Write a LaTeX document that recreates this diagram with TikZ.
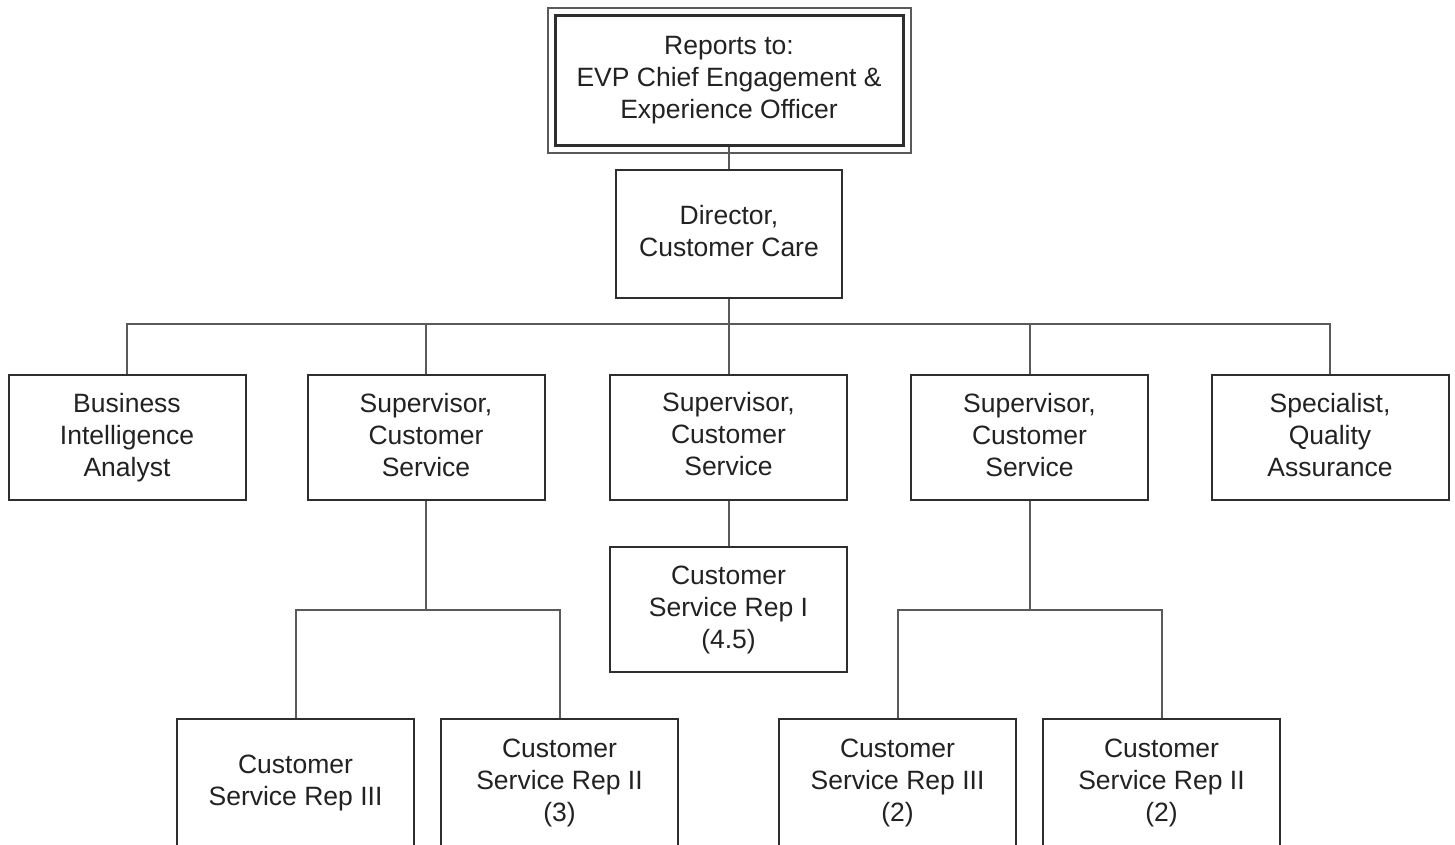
\documentclass[tikz,border=0pt]{standalone}
\usepackage{fontspec}
\setmainfont{Liberation Sans}
\begin{document}
\begin{tikzpicture}[x=1pt,y=-1pt,
  box/.style={draw=boxline, line width=2pt, fill=white, text=txt,
    minimum width=237pt, minimum height=125pt, inner sep=0pt, align=center,
    text depth=5.5pt, font=\fontsize{26.5}{32}\selectfont},
  leaf/.style={box, minimum height=135pt, text depth=13.5pt},
  link/.style={draw=linkc, line width=2pt}]
\definecolor{boxline}{HTML}{2E2E2E}
\definecolor{linkc}{HTML}{5A5A5A}
\definecolor{txt}{HTML}{222222}
\useasboundingbox (0,0) rectangle (1455,844);
\clip (0,0) rectangle (1455,844);

% top level
\node[box, minimum width=348pt, minimum height=130pt, line width=3pt] (top) at (729,80)
  {Reports to:\\EVP Chief Engagement \&\\Experience Officer};
\draw[linkc, line width=2pt] ([xshift=-6pt,yshift=6pt]top.north west) rectangle ([xshift=6pt,yshift=-6pt]top.south east);

\node[box, minimum width=226pt, minimum height=128pt] (dir) at (729,234) {Director,\\Customer Care};

% second row
\node[box] (bi)   at (127,437.5)  {Business\\Intelligence\\Analyst};
\node[box] (sup1) at (426,437.5)  {Supervisor,\\Customer\\Service};
\node[box] (sup2) at (728.5,437)  {Supervisor,\\Customer\\Service};
\node[box] (sup3) at (1029.5,437.5) {Supervisor,\\Customer\\Service};
\node[box] (qa)   at (1330,437.5) {Specialist,\\Quality\\Assurance};

% third row
\node[box] (rep1) at (728.5,609.5) {Customer\\Service Rep I\\(4.5)};
\node[leaf] (r3a) at (295.5,786.5) {Customer\\Service Rep III};
\node[leaf] (r2a) at (559.5,786.5) {Customer\\Service Rep II\\(3)};
\node[leaf] (r3b) at (897.5,786.5) {Customer\\Service Rep III\\(2)};
\node[leaf] (r2b) at (1161.5,786.5) {Customer\\Service Rep II\\(2)};

% connectors
\coordinate (bus) at (729,324);
\coordinate (j1) at (426,610);
\coordinate (j3) at (1029.5,610);
\draw[link] (top.south) -- ([yshift=-7pt]top.south) -- (dir.north);
\draw[link] (dir.south) -- (bus);
\draw[link] (bi.north) |- (bus) -| (qa.north);
\draw[link] (sup1.north) -- (sup1.north |- bus);
\draw[link] (sup2.north) -- (sup2.north |- bus);
\draw[link] (sup3.north) -- (sup3.north |- bus);
\draw[link] (sup2.south) -- (rep1.north);
\draw[link] (sup1.south) -- (j1);
\draw[link] (r3a.north) |- (j1) -| (r2a.north);
\draw[link] (sup3.south) -- (j3);
\draw[link] (r3b.north) |- (j3) -| (r2b.north);
\end{tikzpicture}
\end{document}
